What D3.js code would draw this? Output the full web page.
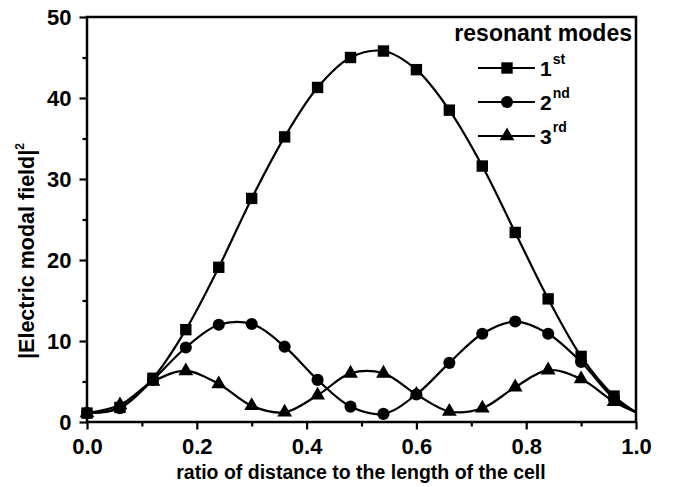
<!DOCTYPE html>
<html>
<head>
<meta charset="utf-8">
<script src="https://cdn.jsdelivr.net/npm/d3@7"></script>
<style>
  body { margin: 0; background: #fff; }
  svg { display: block; }
  text { font-family: "Liberation Sans", Arial, sans-serif; font-weight: bold; fill: #000; }
</style>
</head>
<body>
<div class="container"></div>
<script>
const w = 673;
const h = 487;
const margin = { top: 17, bottom: 65, left: 87, right: 37 };
const width = w - margin.left - margin.right;
const height = h - margin.top - margin.bottom;

// data
const ratio = [0, 0.06, 0.12, 0.18, 0.24, 0.30, 0.36, 0.42, 0.48, 0.54, 0.60, 0.66, 0.72, 0.78, 0.84, 0.90, 0.96, 1.0];
const mode1 = [1.1, 1.8, 5.4, 11.4, 19.1, 27.6, 35.2, 41.3, 45.0, 45.8, 43.5, 38.5, 31.6, 23.4, 15.2, 8.1, 3.2, 1.2];
const mode2 = [1.1, 1.7, 5.2, 9.2, 12.0, 12.1, 9.3, 5.2, 1.9, 1.0, 3.4, 7.3, 10.9, 12.4, 10.9, 7.4, 2.9, 1.2];
const mode3 = [1.1, 2.1, 5.0, 6.3, 4.7, 2.0, 1.2, 3.3, 6.0, 6.0, 3.4, 1.3, 1.7, 4.3, 6.4, 5.3, 2.5, 1.2];
const modeNames = ['1', '2', '3'];
const modeSups = ['st', 'nd', 'rd'];
const xTicks = [0, 0.2, 0.4, 0.6, 0.8, 1.0];
const yTicks = [0, 10, 20, 30, 40, 50];

const series = [
  { values: mode1, symbol: d3.symbolSquare, size: 130 },
  { values: mode2, symbol: d3.symbolCircle, size: 115 },
  { values: mode3, symbol: d3.symbolTriangle, size: 95 }
];

const svg = d3.select('.container').append('svg')
  .attr('width', w)
  .attr('height', h);

const chart = svg.append('g')
  .attr('transform', `translate(${margin.left}, ${margin.top})`);

const x = d3.scaleLinear().domain([0, 1]).range([0, width]);
const y = d3.scaleLinear().domain([0, 50]).range([height, 0]);

// minor ticks
chart.append('g')
  .attr('transform', `translate(0, ${height})`)
  .call(d3.axisBottom(x).tickValues([0.1, 0.3, 0.5, 0.7, 0.9]).tickSize(4.5).tickFormat(''))
  .call(g => g.select('.domain').remove())
  .selectAll('line').attr('stroke-width', 2.2);

chart.append('g')
  .call(d3.axisLeft(y).tickValues([5, 15, 25, 35, 45]).tickSize(4.5).tickFormat(''))
  .call(g => g.select('.domain').remove())
  .selectAll('line').attr('stroke-width', 2.2);

// major ticks
const xAxis = chart.append('g')
  .attr('transform', `translate(0, ${height})`)
  .call(d3.axisBottom(x).tickValues(xTicks).tickSize(7.5).tickPadding(9).tickFormat(d3.format('.1f')));
xAxis.select('.domain').remove();
xAxis.selectAll('line').attr('stroke-width', 2.2);
xAxis.selectAll('text').attr('font-size', 22).attr('font-family', '"Liberation Sans", Arial, sans-serif');

const yAxis = chart.append('g')
  .call(d3.axisLeft(y).tickValues(yTicks).tickSize(7.5).tickPadding(8));
yAxis.select('.domain').remove();
yAxis.selectAll('line').attr('stroke-width', 2.2);
yAxis.selectAll('text').attr('font-size', 22).attr('font-family', '"Liberation Sans", Arial, sans-serif');

// frame
chart.append('rect')
  .attr('width', width)
  .attr('height', height)
  .attr('fill', 'none')
  .attr('stroke', '#000')
  .attr('stroke-width', 2.5);

const line = d3.line()
  .x((d, i) => x(ratio[i]))
  .y(d => y(d))
  .curve(d3.curveCatmullRom.alpha(0.5));

series.forEach(s => {
  chart.append('path')
    .datum(s.values)
    .attr('d', line)
    .attr('fill', 'none')
    .attr('stroke', '#000')
    .attr('stroke-width', 2.2);

  chart.selectAll(null)
    .data(s.values.slice(0, -1))
    .enter()
    .append('path')
      .attr('transform', (d, i) => `translate(${x(ratio[i])}, ${y(d)})`)
      .attr('d', d3.symbol().type(s.symbol).size(s.size))
      .attr('fill', '#000');
});

// legend
const legend = svg.append('g');
legend.append('text')
  .attr('x', 632)
  .attr('y', 41)
  .attr('text-anchor', 'end')
  .attr('font-size', 23)
  .text('resonant modes');

series.forEach((s, i) => {
  const ly = 68 + i * 34;
  legend.append('line')
    .attr('x1', 478).attr('x2', 535)
    .attr('y1', ly).attr('y2', ly)
    .attr('stroke', '#000')
    .attr('stroke-width', 2.2);
  legend.append('path')
    .attr('transform', `translate(507, ${ly})`)
    .attr('d', d3.symbol().type(s.symbol).size(s.size))
    .attr('fill', '#000');
  const t = legend.append('text')
    .attr('x', 540)
    .attr('y', ly + 8)
    .attr('font-size', 21);
  t.append('tspan').text(modeNames[i]);
  t.append('tspan')
    .attr('font-size', 14)
    .attr('dx', 1)
    .attr('dy', -12)
    .text(modeSups[i]);
});

// axis titles
svg.append('text')
  .attr('x', 361)
  .attr('y', 479)
  .attr('text-anchor', 'middle')
  .attr('font-size', 19.5)
  .text('ratio of distance to the length of the cell');

const yTitle = svg.append('text')
  .attr('transform', 'translate(34, 251) rotate(-90)')
  .attr('text-anchor', 'middle')
  .attr('font-size', 21.5);
yTitle.append('tspan').text('|Electric modal field|');
yTitle.append('tspan')
  .attr('font-size', 12)
  .attr('dy', -10)
  .text('2');
</script>
</body>
</html>
